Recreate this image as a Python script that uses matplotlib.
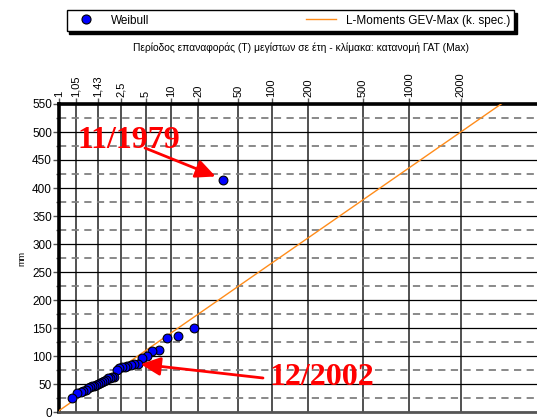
import numpy as np
import matplotlib
matplotlib.use("Agg")
import matplotlib.pyplot as plt
from matplotlib.ticker import FixedLocator, FixedFormatter, MultipleLocator
from matplotlib.lines import Line2D
from matplotlib.patches import ArrowStyle

plt.rcParams['font.family'] = ['Liberation Sans', 'DejaVu Sans']

# annual maxima (mm), sorted from largest to smallest
maxima = [415, 150, 136, 133, 110, 109, 100, 96, 86, 85, 84, 82, 81, 80, 78, 75,
          63, 62, 61, 60, 57, 55, 53, 51, 50, 49, 47, 46, 44, 43, 40, 37, 35, 34, 25]

# GEV fitted with L-moments (Hosking form), k also used for the probability paper
gev_xi = 56.3
gev_alpha = 32.0
gev_k = -0.145

t_ticks = [1.001, 1.05, 1.43, 2.5, 5, 10, 20, 50, 100, 200, 500, 1000, 2000]
t_labels = ["1", "1,05", "1,43", "2,5", "5", "10", "20", "50", "100", "200",
            "500", "1000", "2000"]


def fwd(T):
    T = np.asarray(T, dtype=float)
    with np.errstate(all='ignore'):
        u = -np.log(1.0 - 1.0 / T)
        return (1.0 - u ** gev_k) / gev_k


def inv(y):
    y = np.asarray(y, dtype=float)
    with np.errstate(all='ignore'):
        u = (1.0 - gev_k * y) ** (1.0 / gev_k)
        return 1.0 / (1.0 - np.exp(-u))


n = len(maxima)
rank = np.arange(1, n + 1)
t_weibull = (n + 1) / rank

t_line = np.geomspace(1.001, 5000, 400)
q_line = gev_xi + gev_alpha * fwd(t_line)

fig = plt.figure(figsize=(5.37, 4.19), dpi=100)
ax = fig.add_axes([59 / 537, 7 / 419, 478 / 537, 308 / 419])
ax.set_xscale('function', functions=(fwd, inv))
ax.set_xlim(1.001, 5000)
ax.set_ylim(0, 550)

ax.plot(t_line, q_line, color='#ff8c1a', lw=1.0, zorder=3)
ax.scatter(t_weibull, maxima, s=40, color='#0000ff', edgecolors='black',
           linewidths=0.8, zorder=4)

ax.xaxis.set_major_locator(FixedLocator(t_ticks))
ax.xaxis.set_major_formatter(FixedFormatter(t_labels))
ax.xaxis.set_minor_locator(FixedLocator([]))
ax.xaxis.tick_top()
ax.tick_params(axis='x', which='major', direction='out', length=4, width=1,
               labelrotation=90, labelsize=8, pad=1, color='#555555')

ax.yaxis.set_major_locator(MultipleLocator(50))
ax.yaxis.set_minor_locator(MultipleLocator(25))
ax.tick_params(axis='y', which='major', direction='out', length=4, width=1,
               labelsize=8.5, pad=1, color='#555555')
ax.tick_params(axis='y', which='minor', direction='out', length=2.5, width=1,
               color='#555555')

ax.xaxis.grid(True, color='#333333', lw=1.2, zorder=1)
ax.yaxis.grid(True, which='major', color='black', lw=0.9)
ax.yaxis.grid(True, which='minor', color='#808080', lw=1.3, ls=(0, (4, 3)))
ax.set_axisbelow(True)

ax.spines['left'].set_linewidth(2.6)
ax.spines['top'].set_linewidth(2.6)
ax.spines['bottom'].set_linewidth(2)
ax.spines['bottom'].set_color('#555555')
ax.spines['right'].set_visible(False)

fig.text(22 / 537, 1 - 258 / 419, "mm", rotation=90, fontsize=6.5,
         ha='center', va='center')
fig.text(0.56, 1 - 48 / 419,
         "Περίοδος επαναφοράς (T) μεγίστων σε έτη - κλίμακα: κατανομή ΓΑΤ (Max)",
         fontsize=7.4, ha='center', va='center')

handles = [Line2D([], [], marker='o', ls='none', markersize=6.5,
                  markerfacecolor='#0000ff', markeredgecolor='black', markeredgewidth=0.8),
           Line2D([], [], color='#ff8c1a', lw=1.0)]
leg = fig.legend(handles, ["Weibull", "L-Moments GEV-Max (k. spec.)"],
                 loc='upper left', bbox_to_anchor=(0.124, 0.922, 0.834, 0.053),
                 mode='expand', ncol=2, fontsize=8.5, frameon=True, fancybox=False,
                 edgecolor='black', borderaxespad=0, handlelength=2.6,
                 shadow={'color': 'black', 'alpha': 1}, borderpad=0.35)
leg.get_frame().set_linewidth(1.0)

arrow = ArrowStyle('-|>', head_length=0.6, head_width=0.28)
red = '#ff0000'
serif = dict(family='Liberation Serif', weight='bold', color=red, fontsize=23)

ax.text((77 - 59) / 478, (412 - 148) / 308, "11/1979", transform=ax.transAxes,
        ha='left', va='baseline', zorder=6, **serif)
ax.annotate("", xy=(t_weibull[0], maxima[0]), xycoords='data',
            xytext=((145 - 59) / 478, (412 - 148) / 308), textcoords='axes fraction',
            arrowprops=dict(arrowstyle=arrow, color=red, lw=2, mutation_scale=20,
                            shrinkA=0, shrinkB=6), zorder=6)

ax.text((270 - 59) / 478, (412 - 385) / 308, "12/2002", transform=ax.transAxes,
        ha='left', va='baseline', zorder=6, **serif)
ax.annotate("", xy=(t_weibull[8], maxima[8]), xycoords='data',
            xytext=((263 - 59) / 478, (412 - 378) / 308), textcoords='axes fraction',
            arrowprops=dict(arrowstyle=arrow, color=red, lw=2, mutation_scale=20,
                            shrinkA=0, shrinkB=2), zorder=6)

fig.savefig("out.png", dpi=100, facecolor='white')
